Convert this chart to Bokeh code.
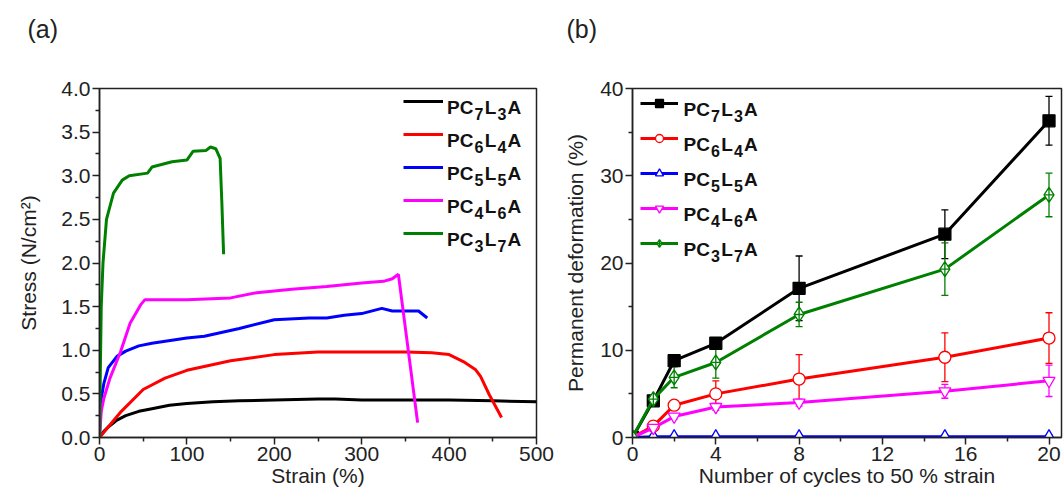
from bokeh.plotting import figure
from bokeh.layouts import row
from bokeh.models import (Range1d, Legend, LegendItem, Whisker, TeeHead, Label, Title,
                          ColumnDataSource, PrintfTickFormatter, FixedTicker)
from bokeh.embed import file_html
from bokeh.resources import INLINE

# ---------------- data ----------------
pc_parts = [7, 6, 5, 4, 3]
l_parts = [3, 4, 5, 6, 7]
names = ["PC\u2087L\u2083A", "PC\u2086L\u2084A", "PC\u2085L\u2085A", "PC\u2084L\u2086A", "PC\u2083L\u2087A"]
colors = ["#000000", "#ff0000", "#0000ff", "#ff00ff", "#008000"]

# panel (a): stress-strain curves
strain_73 = [0, 5, 10, 20, 30, 45, 60, 80, 100, 130, 160, 200, 250, 270, 300, 350, 400, 450, 500]
stress_73 = [0, 0.07, 0.12, 0.2, 0.25, 0.3, 0.33, 0.37, 0.39, 0.41, 0.42, 0.43, 0.44, 0.44, 0.43, 0.43, 0.43, 0.42, 0.41]
strain_64 = [0, 10, 25, 50, 75, 100, 150, 200, 250, 300, 350, 380, 400, 418, 430, 436, 446, 460]
stress_64 = [0, 0.12, 0.3, 0.55, 0.68, 0.77, 0.88, 0.95, 0.98, 0.98, 0.98, 0.97, 0.95, 0.86, 0.78, 0.70, 0.49, 0.23]
strain_55 = [0, 2, 5, 10, 20, 30, 45, 60, 100, 120, 160, 200, 240, 260, 280, 300, 323, 335, 350, 365, 375]
stress_55 = [0, 0.45, 0.62, 0.80, 0.93, 0.99, 1.05, 1.08, 1.14, 1.16, 1.25, 1.35, 1.37, 1.37, 1.40, 1.42, 1.48, 1.45, 1.45, 1.45, 1.37]
strain_46 = [0, 2, 5, 12, 24, 35, 47, 52, 80, 100, 150, 180, 220, 260, 300, 325, 335, 342, 364]
stress_46 = [0, 0.3, 0.45, 0.68, 0.98, 1.31, 1.52, 1.58, 1.58, 1.58, 1.60, 1.66, 1.70, 1.73, 1.77, 1.79, 1.82, 1.87, 0.17]
strain_37 = [0, 1, 2, 4, 8, 16, 26, 34, 55, 60, 83, 100, 107, 122, 127, 133, 138, 140, 142]
stress_37 = [0, 0.8, 1.5, 2.0, 2.5, 2.8, 2.95, 3.0, 3.03, 3.10, 3.16, 3.18, 3.28, 3.29, 3.33, 3.31, 3.2, 2.69, 2.1]

# panel (b): permanent deformation vs cycles
cycles = [0, 1, 2, 4, 8, 15, 20]
def_73 = [0, 4.2, 8.8, 10.8, 17.1, 23.3, 36.3]
err_73 = [0, 0.3, 0.3, 0.6, 3.7, 2.8, 2.8]
def_64 = [0, 1.3, 3.7, 5.0, 6.7, 9.2, 11.4]
err_64 = [0, 0.2, 0.4, 1.5, 2.8, 2.8, 2.9]
def_55 = [0, 0.1, 0.1, 0.1, 0.1, 0.1, 0.1]
err_55 = [0, 0.2, 0.2, 0.2, 0.2, 0.2, 0.2]
def_46 = [0, 1.1, 2.4, 3.5, 4.0, 5.3, 6.5]
err_46 = [0, 0.2, 0.3, 0.4, 0.4, 0.8, 1.8]
def_37 = [0, 4.4, 6.9, 8.6, 14.1, 19.3, 27.8]
err_37 = [0, 0.3, 1.2, 1.8, 1.4, 3.0, 2.5]

FONT = "Liberation Sans"
AX = "#222222"
TOP = 85
BOTTOM = 56
FH = 493 - TOP - BOTTOM  # frame height (px)


def style(p):
    p.xgrid.visible = False
    p.ygrid.visible = False
    p.outline_line_color = AX
    p.outline_line_width = 1.5
    p.background_fill_color = "white"
    p.border_fill_color = "white"
    for ax in (p.xaxis[0], p.yaxis[0]):
        ax.axis_line_color = AX
        ax.axis_line_width = 1.5
        ax.major_tick_line_color = AX
        ax.minor_tick_line_color = AX
        ax.major_tick_line_width = 1.5
        ax.minor_tick_line_width = 1.5
        ax.major_tick_in = 0
        ax.major_tick_out = 7
        ax.minor_tick_in = 0
        ax.minor_tick_out = 4
        ax.major_label_text_font = FONT
        ax.major_label_text_font_size = "21px"
        ax.major_label_text_color = AX
        ax.axis_label_text_font = FONT
        ax.axis_label_text_font_size = "21px"
        ax.axis_label_text_font_style = "normal"
        ax.axis_label_text_color = AX
        ax.major_label_standoff = 2
    p.xaxis.axis_label_standoff = 0


def formula(p, k, x0, yc):
    """Bold formula PC_nL_mA with lowered digits; left edge x0, centre yc
    (screen px measured from the frame's bottom-left)."""
    adv = {"PC": 0.667 + 0.722, "L": 0.611, "A": 0.722}
    pieces = [("PC", False), (str(pc_parts[k]), True), ("L", False),
              (str(l_parts[k]), True), ("A", False)]
    x = x0
    base = yc - 6
    for txt, sub in pieces:
        size = 16 if sub else 19
        p.add_layout(Label(x=x, y=base - 6.6 if sub else base, x_units="screen", y_units="screen",
                           text=txt, text_font=FONT, text_font_size=f"{size}px",
                           text_font_style="bold", text_color="#111111",
                           text_baseline="alphabetic", text_align="left"))
        w = (0.556 * size) if sub else adv[txt] * size
        x += w + 1.2


def panel_label(p, txt, offset):
    # panel letter as the plot title; a blank second line lifts it well above the frame
    p.title.text = txt + "\n\u00a0"
    p.title.text_font = FONT
    p.title.text_font_size = "25px"
    p.title.text_font_style = "normal"
    p.title.text_color = AX
    p.title.text_line_height = 1.2
    p.title.align = "left"
    p.title.offset = offset
    p.title.standoff = 24


# ---------------- panel (a) ----------------
WA, LA, FA = 558, 99, 437
pa = figure(width=WA, height=493, x_range=Range1d(0, 500), y_range=Range1d(0, 4),
            output_backend="svg", toolbar_location=None,
            min_border_left=LA, min_border_right=WA - LA - FA, min_border_top=TOP,
            min_border_bottom=BOTTOM)
style(pa)
pa.xaxis[0].ticker = FixedTicker(ticks=[0, 100, 200, 300, 400, 500],
                                 minor_ticks=[50, 150, 250, 350, 450])
pa.yaxis[0].ticker = FixedTicker(ticks=[0, 0.5, 1, 1.5, 2, 2.5, 3, 3.5, 4],
                                 minor_ticks=[0.25, 0.75, 1.25, 1.75, 2.25, 2.75, 3.25, 3.75])
pa.yaxis.formatter = PrintfTickFormatter(format="%.1f")
pa.xaxis.axis_label = "Strain (%)"
pa.yaxis.axis_label = "Stress (N/cm\u00b2)"
pa.yaxis.axis_label_standoff = 18

curves = [(strain_73, stress_73), (strain_64, stress_64), (strain_55, stress_55),
          (strain_46, stress_46), (strain_37, stress_37)]
items_a = []
for (xs, ys), c, n in zip(curves, colors, names):
    r = pa.line(xs, ys, line_color=c, line_width=3)
    items_a.append(LegendItem(label=n, renderers=[r]))
leg_a = Legend(items=items_a, location=(304, FH - 6 - (5 * 20 + 4 * 13)),
               border_line_alpha=0, background_fill_alpha=0,
               label_text_font=FONT, label_text_font_size="10px", label_text_alpha=0,
               glyph_width=40, glyph_height=20, label_height=20, spacing=13,
               padding=0, margin=0, label_standoff=3)
pa.add_layout(leg_a, "center")
for k in range(5):
    formula(pa, k, 347.5, FH - 16 - 33 * k)
panel_label(pa, "(a)", -72)

# ---------------- panel (b) ----------------
WB = 1063 - WA
LB, FB = 632 - WA, 429
pb = figure(width=WB, height=493, x_range=Range1d(0, 20.6), y_range=Range1d(0, 40),
            output_backend="svg", toolbar_location=None,
            min_border_left=LB, min_border_right=WB - LB - FB, min_border_top=TOP,
            min_border_bottom=BOTTOM)
style(pb)
pb.xaxis[0].ticker = FixedTicker(ticks=[0, 4, 8, 12, 16, 20], minor_ticks=[2, 6, 10, 14, 18])
pb.yaxis[0].ticker = FixedTicker(ticks=[0, 10, 20, 30, 40], minor_ticks=[5, 15, 25, 35])
pb.xaxis.axis_label = "Number of cycles to 50 % strain"
pb.yaxis.axis_label = "Permanent deformation (%)"
pb.yaxis.axis_label_standoff = 10

series = [(def_73, err_73, "square", colors[0], 12),
          (def_64, err_64, "circle", "white", 12),
          (def_55, err_55, "triangle", "white", 12),
          (def_46, err_46, "inverted_triangle", "white", 12),
          (def_37, err_37, "diamond_cross", "white", 15)]
items_b = []
for (ys, es, mk, fill, sz), c, n in zip(series, colors, names):
    src = ColumnDataSource(dict(x=cycles, y=ys,
                                upper=[a + b for a, b in zip(ys, es)],
                                lower=[a - b for a, b in zip(ys, es)]))
    w = Whisker(source=src, base="x", upper="upper", lower="lower",
                line_color=c, line_width=1.3,
                upper_head=TeeHead(size=7, line_color=c, line_width=1.3),
                lower_head=TeeHead(size=7, line_color=c, line_width=1.3))
    pb.add_layout(w)
    rl = pb.line("x", "y", source=src, line_color=c, line_width=3)
    rs = pb.scatter("x", "y", source=src, marker=mk, size=sz, line_color=c,
                    fill_color=fill, line_width=1.3)
    items_b.append(LegendItem(label=n, renderers=[rl, rs]))
leg_b = Legend(items=items_b, location=(8, FH - 8 - (5 * 20 + 4 * 15)),
               border_line_alpha=0, background_fill_alpha=0,
               label_text_font=FONT, label_text_font_size="10px", label_text_alpha=0,
               glyph_width=38, glyph_height=20, label_height=20, spacing=15,
               padding=0, margin=0, label_standoff=3)
pb.add_layout(leg_b, "center")
for k in range(5):
    formula(pb, k, 51, FH - 18 - 35 * k)
panel_label(pb, "(b)", -66)

layout = row(pa, pb)
open("out.html", "w").write(file_html(layout, INLINE))
